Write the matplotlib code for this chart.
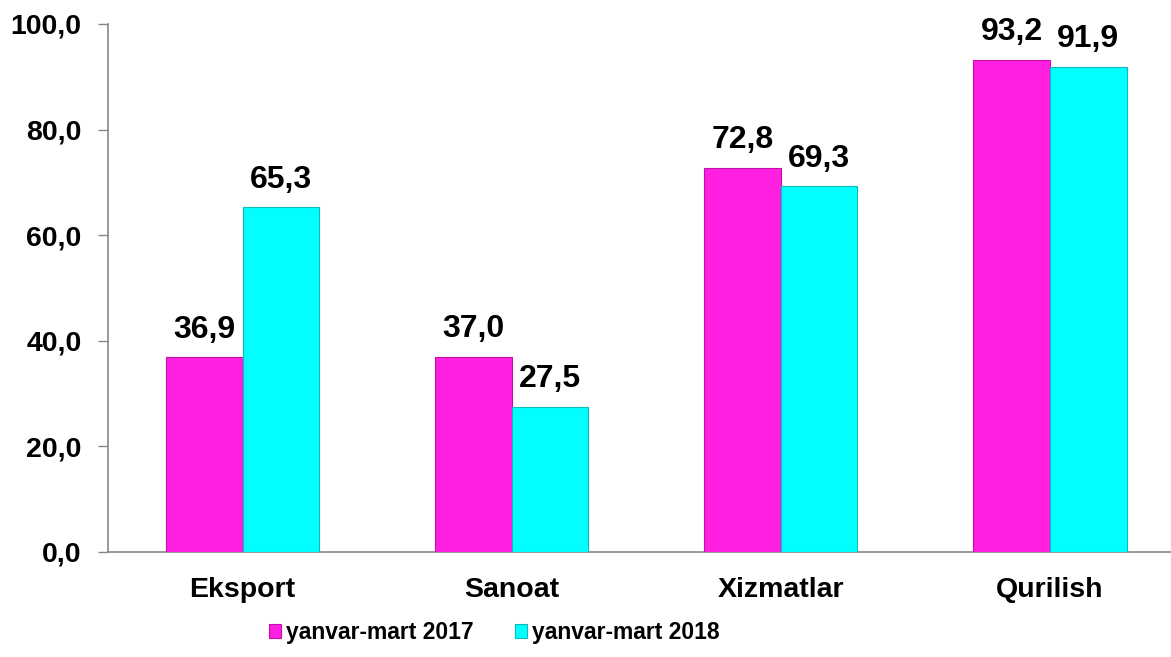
import matplotlib.pyplot as plt
import numpy as np

categories = ["Eksport", "Sanoat", "Xizmatlar", "Qurilish"]
series_names = ["yanvar-mart 2017", "yanvar-mart 2018"]
values_2017 = [36.9, 37.0, 72.8, 93.2]
values_2018 = [65.3, 27.5, 69.3, 91.9]
yticks = [0, 20, 40, 60, 80, 100]

plt.rcParams['font.family'] = ['Liberation Sans', 'DejaVu Sans']
plt.rcParams['font.weight'] = 'bold'


def fmt(v):
    return f"{v:.1f}".replace(".", ",")


fig = plt.figure(figsize=(11.71, 6.57), dpi=100)
ax = fig.add_axes([108 / 1171, 105 / 657, 1 - 108 / 1171, 528 / 657])

x = np.arange(len(categories))
w = 0.285
b1 = ax.bar(x - w / 2, values_2017, w, color='#FF1FE0', edgecolor='#C010A8',
            linewidth=0.8, label=series_names[0], zorder=3)
b2 = ax.bar(x + w / 2, values_2018, w, color='#00FFFF', edgecolor='#10B8B8',
            linewidth=0.8, label=series_names[1], zorder=3)

for bars, vals in ((b1, values_2017), (b2, values_2018)):
    for rect, v in zip(bars, vals):
        ax.annotate(fmt(v), (rect.get_x() + rect.get_width() / 2, v),
                    xytext=(0, 9), textcoords='offset points',
                    ha='center', va='bottom', fontsize=23, fontweight='bold')

ax.set_xlim(-0.5, 3.45)
ax.set_ylim(0, 100)
ax.set_yticks(yticks)
ax.set_yticklabels([fmt(v) for v in yticks], fontsize=20.5, fontweight='bold')
ax.set_xticks(x)
ax.set_xticklabels(categories, fontsize=20.5, fontweight='bold')
ax.tick_params(axis='x', length=0, pad=18)
ax.tick_params(axis='y', length=7, width=1, color='#888888', pad=12)

for s in ['top', 'right']:
    ax.spines[s].set_visible(False)
for s in ['left', 'bottom']:
    ax.spines[s].set_color('#888888')
    ax.spines[s].set_linewidth(1.2)

fig.legend(handles=[b1, b2], labels=series_names, loc='center',
           bbox_to_anchor=(494 / 1171, 1 - 633 / 657), ncol=2, frameon=False,
           prop={'size': 16.5, 'weight': 'bold'}, handlelength=0.55,
           handleheight=0.55, handletextpad=0.2, columnspacing=1.8)

fig.savefig("out.png", dpi=100)
